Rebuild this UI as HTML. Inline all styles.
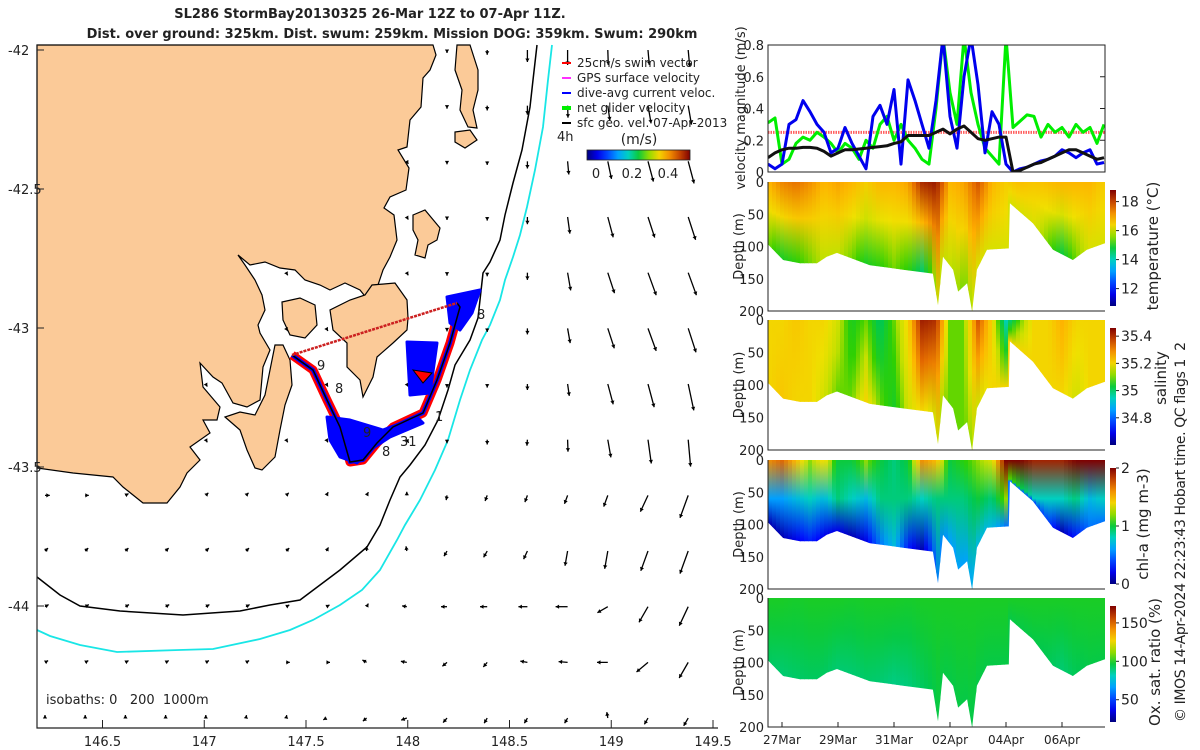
<!DOCTYPE html>
<html><head><meta charset="utf-8"><title>SL286 StormBay glider</title>
<style>
html,body{margin:0;padding:0;background:#fff;width:1200px;height:750px;overflow:hidden}
svg{display:block;font-family:"DejaVu Sans","Liberation Sans",sans-serif}
text{fill:#222}
.pre{white-space:pre}
</style></head>
<body>
<svg id="fig" width="1200" height="750" viewBox="0 0 1200 750" xmlns="http://www.w3.org/2000/svg">
<defs id="defs"></defs>
<text x="370" y="18" text-anchor="middle" font-weight="bold" font-size="13">SL286 StormBay20130325 26-Mar 12Z to 07-Apr 11Z.</text>
<text x="392" y="38" text-anchor="middle" font-weight="bold" font-size="13">Dist. over ground: 325km. Dist. swum: 259km. Mission DOG: 359km. Swum: 290km</text>
<g id="map"></g>
<g id="right"></g>
</svg>
<script>
// ---------------- DATA ----------------
const velStartDay = 26.5;
const velStep = 0.25;
const diveAvgCurrent = [0.05,0.02,0.05,0.30,0.33,0.45,0.38,0.30,0.25,0.12,0.15,0.28,0.18,0.10,0.02,0.35,0.42,0.30,0.52,0.05,0.58,0.45,0.30,0.15,0.45,0.85,0.35,0.15,0.60,0.85,0.55,0.12,0.38,0.30,0.05,0.00,0.02,0.03,0.05,0.07,0.08,0.10,0.14,0.12,0.09,0.12,0.14,0.05,0.06];
const netGlider = [0.31,0.34,0.05,0.08,0.18,0.22,0.20,0.25,0.22,0.18,0.12,0.18,0.15,0.08,0.20,0.15,0.30,0.35,0.20,0.30,0.20,0.15,0.08,0.05,0.40,0.85,0.50,0.30,0.85,0.50,0.30,0.15,0.10,0.05,0.85,0.28,0.32,0.36,0.35,0.22,0.30,0.25,0.28,0.22,0.30,0.25,0.28,0.18,0.30];
const sfcGeo = [0.09,0.12,0.14,0.15,0.15,0.155,0.155,0.15,0.13,0.10,0.12,0.14,0.14,0.145,0.15,0.155,0.16,0.165,0.18,0.19,0.23,0.23,0.23,0.23,0.25,0.27,0.24,0.27,0.29,0.25,0.21,0.20,0.21,0.22,0.22,0.00,0.01,0.03,0.05,0.06,0.08,0.10,0.12,0.14,0.14,0.12,0.10,0.08,0.09];
const swimSpeed = [0.25];
const velTicks = [0,0.2,0.4,0.6,0.8];
const bottomDays  = [26.46,27.04,27.64,28.25,28.6,28.96,30.14,31.32,32.39,32.57,32.75,33.11,33.29,33.61,33.79,33.96,34.32,35.1,35.14,35.96,36.68,37.39,37.89,38.54];
const bottomDepth = [95,121,126,126,116,110,129,136,142,191,116,136,170,157,201,136,105,103,33,64,105,121,105,95];
const fieldDays = [26.5,27,27.5,28,28.5,29,29.5,30,30.5,31,31.5,32,32.5,33,33.5,34,34.5,35,35.5,36,36.5,37,37.5,38,38.5];
const tempSurface = [16.8,17.3,17.5,17.2,16.8,17.0,16.8,16.5,16.8,16.8,17.0,18.3,18.5,16.8,17.0,17.8,16.8,16.5,16.7,16.6,16.7,16.8,16.8,16.8,16.5];
const tempBottom  = [15.5,15.0,15.2,15.5,15.8,15.8,15.5,15.0,15.2,15.5,15.2,14.5,15.8,15.8,15.5,16.0,16.0,16.0,16.0,16.0,15.5,14.8,15.5,16.0,16.0];
const salSurface = [35.2,35.2,35.22,35.2,35.2,35.15,35.05,35.1,35.0,35.1,35.2,35.42,35.4,35.1,35.1,35.35,35.2,34.95,35.1,35.2,35.2,35.25,35.2,35.2,35.2];
const salBottom  = [35.2,35.22,35.2,35.2,35.15,35.1,35.1,35.2,35.1,35.05,35.15,35.2,35.15,35.1,35.1,35.15,35.2,35.2,35.2,35.2,35.2,35.2,35.15,35.2,35.2];
const chlSurface = [1.6,1.7,1.5,1.2,1.4,1.0,1.0,1.2,1.0,0.9,1.0,1.6,1.5,1.0,1.1,1.2,1.3,2.0,2.0,1.9,1.9,1.9,2.0,2.0,2.0];
const chlMid     = [0.6,0.6,0.7,0.8,0.7,0.9,0.8,0.7,0.9,0.9,0.9,0.8,0.9,0.9,0.9,1.0,0.9,1.2,1.0,0.8,0.8,0.8,0.9,0.7,0.8];
const chlBottom  = [0.1,0.1,0.2,0.3,0.2,0.2,0.1,0.2,0.5,0.7,0.3,0.1,0.5,0.6,0.6,0.7,0.7,0.5,0.5,0.4,0.4,0.1,0.3,0.5,0.5];
const oxySurface = [100,100,99,100,100,100,99,100,100,100,99,100,100,100,100,100,100,100,100,100,100,100,100,100,100];
const oxyBottom  = [92,90,91,92,92,90,90,91,90,88,89,92,95,95,95,95,95,95,95,95,93,90,93,95,95];
const timeTickDays = [27,29,31,33,35,37];
const timeTickLabels = ["27Mar","29Mar","31Mar","02Apr","04Apr","06Apr"];
const depthTicks = [0,50,100,150,200];
const tempTicks=[12,14,16,18], salTicks=[34.8,35,35.2,35.4], chlTicks=[0,1,2], oxyTicks=[50,100,150];
const lonTicks = [146.5,147,147.5,148,148.5,149,149.5];
const latTicks = [-42,-42.5,-43,-43.5,-44];
const arrowSpeed = [
 [.05,.05,.05,.05,.05,.05,.05,.05,.05,.05,.05,.08,.2,.25,.25,.25,.28],
 [.05,.05,.05,.05,.05,.05,.05,.05,.05,.05,.05,.08,.15,.2,.25,.3,.32],
 [.05,.05,.05,.05,.05,.05,.05,.05,.05,.05,.05,.06,.12,.22,.3,.35,.38],
 [.05,.05,.05,.05,.05,.05,.05,.05,.05,.05,.05,.06,.12,.28,.35,.36,.4],
 [.05,.05,.05,.05,.05,.05,.05,.05,.05,.05,.05,.06,.12,.3,.36,.4,.4],
 [.05,.05,.05,.05,.05,.05,.05,.05,.05,.05,.05,.06,.1,.25,.35,.4,.42],
 [.05,.05,.05,.05,.05,.05,.05,.05,.05,.05,.06,.06,.1,.2,.35,.4,.45],
 [.05,.05,.05,.05,.05,.05,.05,.05,.05,.06,.06,.08,.1,.2,.3,.4,.45],
 [.08,.06,.06,.06,.06,.06,.06,.06,.06,.06,.08,.1,.12,.15,.2,.3,.4],
 [.07,.07,.07,.07,.07,.07,.07,.07,.08,.08,.1,.12,.15,.25,.3,.35,.4],
 [.07,.07,.07,.07,.07,.07,.06,.06,.06,.08,.1,.12,.15,.2,.2,.3,.35],
 [.06,.06,.06,.06,.06,.06,.06,.06,.08,.1,.1,.1,.12,.15,.18,.25,.3],
 [.05,.05,.05,.05,.05,.05,.05,.06,.08,.1,.1,.1,.1,.1,.1,.12,.15]];
const arrowDir = [
 [-90,-90,-90,-90,-90,-90,-90,-90,-90,-90,-90,-90,-90,-90,-88,-85,-85],
 [-90,-90,-90,-90,-90,-90,-90,-90,-90,-90,-90,-90,-90,-88,-82,-80,-80],
 [-60,-60,-60,-60,-60,-60,-60,-60,-60,-60,-90,-90,-90,-85,-78,-75,-75],
 [-60,-60,-60,-60,-60,-60,-60,-60,-60,-60,-90,-90,-90,-82,-75,-72,-72],
 [-60,-60,-60,-60,-60,-60,-60,-60,-60,-60,-90,-90,-90,-80,-72,-70,-70],
 [-60,-60,-60,-60,-60,-60,-60,-60,-60,-60,-90,-90,-90,-80,-72,-70,-72],
 [-60,-60,-60,-60,-60,-60,-60,-60,-60,-60,-90,-90,-90,-82,-75,-75,-78],
 [-60,-60,-60,-60,-60,-60,-60,-60,-60,-60,-90,-90,-95,-88,-80,-82,-85],
 [0,0,30,45,45,45,45,60,60,90,-100,-110,-110,-110,-110,-115,-110],
 [45,45,45,45,45,45,45,60,90,100,-120,-120,-115,-100,-100,-110,-110],
 [30,30,30,30,30,30,30,30,60,170,180,180,180,180,-150,-120,-115],
 [30,30,30,30,30,30,0,0,150,170,-140,-130,170,175,180,-140,-120],
 [90,90,90,90,90,80,80,-150,-140,-160,-130,-120,-120,-120,100,-120,-120]];
const trackPts = [[457,303],[460,307],[450,343],[437,380],[423,413],[393,427],[377,443],[363,460],[350,462],[340,427],[327,400],[313,370],[292,355]];

// ---------------- HELPERS ----------------
const NS="http://www.w3.org/2000/svg";
function mk(tag, attrs, parent){const e=document.createElementNS(NS,tag);for(const k in attrs)e.setAttribute(k,attrs[k]);(parent||document.getElementById('fig')).appendChild(e);return e;}
const defs=document.getElementById('defs');
const cmapStops=[[0,[0,0,127]],[.12,[0,0,255]],[.3,[0,160,255]],[.4,[0,208,192]],[.48,[0,200,80]],[.56,[48,208,0]],[.62,[192,224,0]],[.68,[240,224,0]],[.76,[255,176,0]],[.86,[224,96,0]],[1,[128,0,0]]];
function cmap(t){t=Math.max(0,Math.min(1,t));for(let i=1;i<cmapStops.length;i++){if(t<=cmapStops[i][0]){const a=cmapStops[i-1],b=cmapStops[i];const f=(t-a[0])/(b[0]-a[0]);const c=a[1].map((v,j)=>Math.round(v+(b[1][j]-v)*f));return `rgb(${c[0]},${c[1]},${c[2]})`;}}return 'rgb(128,0,0)';}
function interp(xs,ys,x){if(x<=xs[0])return ys[0];for(let i=1;i<xs.length;i++){if(x<=xs[i]){const f=(x-xs[i-1])/(xs[i]-xs[i-1]);return ys[i-1]+(ys[i]-ys[i-1])*f;}}return ys[ys.length-1];}

// ---------------- MAP ----------------
const map=document.getElementById('map');
const lonX = lon => 102.5 + (lon-146.5)*203.5;
const latY = lat => 50 + (-42-lat)*278;
const landPolys = {
 'tasmania-mainland':[[37,45],[433,45],[436,55],[430,70],[423,78],[421,107],[410,120],[407,147],[398,150],[409,168],[406,190],[390,197],[384,208],[394,215],[397,240],[390,257],[383,270],[378,285],[368,300],[360,290],[345,283],[330,290],[320,285],[305,280],[295,270],[280,268],[265,262],[250,265],[238,255],[245,265],[255,280],[262,295],[265,310],[258,325],[260,333],[270,350],[263,367],[260,400],[247,407],[233,403],[222,383],[213,377],[200,363],[203,387],[220,407],[217,420],[203,420],[210,433],[190,447],[200,460],[187,473],[180,487],[167,503],[143,503],[123,487],[113,477],[73,473],[37,468]],
 'bruny-island':[[225,417],[240,430],[247,450],[255,468],[262,470],[275,457],[280,430],[285,405],[292,385],[290,360],[283,345],[275,345],[270,370],[265,395],[255,415],[240,412]],
 'tasman-peninsula':[[333,330],[330,310],[350,300],[365,295],[372,285],[395,283],[407,300],[408,318],[407,330],[393,343],[377,357],[373,377],[363,397],[360,380],[347,367],[347,343]],
 'derwent-island':[[282,302],[300,298],[315,305],[317,325],[305,338],[290,335],[283,320]],
 'freycinet-peninsula':[[457,45],[470,45],[478,70],[478,90],[473,110],[477,128],[468,127],[460,110],[462,90],[455,70]],
 'schouten-island':[[455,132],[470,130],[477,140],[465,148],[455,142]],
 'maria-island':[[413,215],[425,210],[440,228],[437,240],[428,245],[425,258],[415,255],[418,240],[413,230]]
};
const landEls=[];
for(const nm in landPolys){
 const p=mk('polygon',{points:landPolys[nm].map(q=>q.join(',')).join(' '),fill:'#fbca98',stroke:'#000','stroke-width':1.2},map);
 
 
 landEls.push(p);
}
const iso200=[[537,45],[533,80],[530,107],[522,150],[513,183],[505,215],[500,240],[490,262],[483,273],[480,300],[478,318],[470,340],[455,365],[448,390],[438,420],[425,445],[410,465],[400,477],[390,500],[380,525],[367,547],[340,570],[320,585],[300,600],[270,605],[240,611],[183,615],[120,611],[80,606],[60,595],[37,577]];
const iso1000=[[552,45],[548,80],[543,127],[535,170],[527,207],[520,235],[513,257],[505,280],[500,300],[490,325],[482,340],[470,370],[460,400],[448,440],[435,470],[420,500],[405,525],[397,540],[380,570],[362,590],[340,605],[313,620],[290,630],[260,639],[213,649],[179,650],[117,652],[80,645],[50,636],[37,630]];
const i2=mk('polyline',{points:iso200.map(q=>q.join(',')).join(' '),fill:'none',stroke:'#000','stroke-width':1.5},map);


const i1=mk('polyline',{points:iso1000.map(q=>q.join(',')).join(' '),fill:'none',stroke:'#19e6e6','stroke-width':1.8},map);



const arrowG=mk('g',{},map);


for(let j=0;j<arrowSpeed.length;j++){
 for(let i=0;i<arrowSpeed[j].length;i++){
  const x=45+40.2*i, y=50+55.67*j;
  const pt=document.getElementById('fig').createSVGPoint(); pt.x=x; pt.y=y;
  let onLand=false; for(const l of landEls){ if(l.isPointInFill(pt)){onLand=true;break;} }
  if(onLand) continue;
  const L=arrowSpeed[j][i]*60, a=arrowDir[j][i]*Math.PI/180;
  const ex=x+L*Math.cos(a), ey=y-L*Math.sin(a);
  const ln=mk('line',{x1:x,y1:y,x2:ex.toFixed(1),y2:ey.toFixed(1),stroke:'#000','stroke-width':1.3},arrowG);
  
  
  const ux=Math.cos(a), uy=-Math.sin(a), h=3.5;
  const hd=mk('polygon',{points:`${ex},${ey} ${ex-h*ux-h*0.6*uy},${ey-h*uy+h*0.6*ux} ${ex-h*ux+h*0.6*uy},${ey-h*uy-h*0.6*ux}`,fill:'#000'},arrowG);
  
  
 }
}
const blobs={
 'dive-avg-blob-north':[[447,297],[480,290],[472,313],[460,330],[450,323]],
 'dive-avg-blob-mid':[[407,342],[437,343],[430,393],[410,395]],
 'dive-avg-blob-south':[[327,417],[350,420],[383,430],[417,417],[423,423],[390,437],[370,450],[357,463],[340,457],[330,440]]
};
const trkG=mk('g',{},map);


const tr=mk('polyline',{points:trackPts.map(q=>q.join(',')).join(' '),fill:'none',stroke:'#ff0000','stroke-width':9,'stroke-linejoin':'round'},trkG);


for(const nm in blobs){
 const b=mk('polygon',{points:blobs[nm].map(q=>q.join(',')).join(' '),fill:'#0000ff',stroke:'#0000ff','stroke-width':3,'stroke-linejoin':'round'},trkG);
 
 
}
const tr2=mk('polyline',{points:trackPts.map(q=>q.join(',')).join(' '),fill:'none',stroke:'#0000ff','stroke-width':4,'stroke-linejoin':'round'},trkG);


const rb=mk('polygon',{points:'413,370 432,373 423,383',fill:'#ff0000',stroke:'#000','stroke-width':1},trkG);


const tr3=mk('polyline',{points:trackPts.map(q=>q.join(',')).join(' '),fill:'none',stroke:'#000','stroke-width':1.5},trkG);


const tr4=mk('line',{x1:292,y1:355,x2:457,y2:303,stroke:'#cc2020','stroke-width':2.5,'stroke-dasharray':'3 1'},trkG);


const dayLabels=[["9",317,370],["8",335,393],["9",363,437],["31",400,446],["8",382,456],["1",435,421],["8",477,319],["4h",557,141]];
for(const d of dayLabels){
 const t=mk('text',{x:d[1],y:d[2],'font-size':13},trkG);
 t.textContent=d[0];
 
 
}
const ax=mk('path',{d:'M37,45 V728 H718',fill:'none',stroke:'#222','stroke-width':1.2},map);


for(const lo of lonTicks){
 const x=lonX(lo);
 const tk=mk('line',{x1:x,y1:728,x2:x,y2:720,stroke:'#222'},map);
 
 
 const t=mk('text',{x:x,y:746,'text-anchor':'middle','font-size':13},map);
 t.textContent=String(lo);
 
 
}
for(const la of latTicks){
 const y=latY(la);
 const tk=mk('line',{x1:37,y1:y,x2:44,y2:y,stroke:'#222'},map);
 
 
 const t=mk('text',{x:8,y:y+5,'font-size':13},map);
 t.textContent=String(la);
 
 
}
const iso=mk('text',{x:46,y:704,'font-size':13,'class':'pre'},map);
iso.textContent='isobaths: 0   200  1000m';


const leg=[['#ff0000','25cm/s swim vector'],['#ff30ff','GPS surface velocity'],['#0000ff','dive-avg current veloc.'],['#00ee00','net glider velocity'],['#000000','sfc geo. vel. 07-Apr-2013']];
const legG=mk('g',{},map);


leg.forEach((e,k)=>{
 const y=63+15*k;
 const m=mk('line',{x1:562,y1:y,x2:571,y2:y,stroke:e[0],'stroke-width':k==3?4:2},legG);
 
 
 const t=mk('text',{x:577,y:y+4,'font-size':12},legG);
 t.textContent=e[1];
 
 
});
const cbt=mk('text',{x:639,y:144,'text-anchor':'middle','font-size':14},legG);
cbt.textContent='(m/s)';


const gS=mk('linearGradient',{id:'gSpeed',x1:0,x2:1,y1:0,y2:0},defs);
for(let s=0;s<=10;s++){mk('stop',{offset:s/10,'stop-color':cmap(s/10)},gS);}
const cbr=mk('rect',{x:587,y:150,width:103,height:10,fill:'url(#gSpeed)',stroke:'#222','stroke-width':0.8},legG);


[['0',596],['0.2',632],['0.4',668]].forEach(l=>{
 const t=mk('text',{x:l[1],y:178,'text-anchor':'middle','font-size':13},legG);
 t.textContent=l[0];
 
 
});

// ---------------- RIGHT PANELS ----------------
const R=document.getElementById('right');
const X0=768, X1=1105;
const xT = d => X0 + (d-26.5)*28;
const vTop=45, vBot=172;
const yV = v => vBot - v/0.8*(vBot-vTop);
const vClip=mk('clipPath',{id:'vclip'},defs);
mk('rect',{x:X0,y:vTop,width:X1-X0,height:vBot-vTop},vClip);
const vg=mk('g',{'clip-path':'url(#vclip)'},R);


const sw=mk('line',{x1:X0,x2:X1,y1:yV(swimSpeed[0]),y2:yV(swimSpeed[0]),stroke:'#ff6060','stroke-width':3,'stroke-dasharray':'1.5 1'},vg);


function series(arr,color,w,name){
 const pts=arr.map((v,i)=>xT(velStartDay+velStep*i).toFixed(1)+','+yV(v).toFixed(1)).join(' ');
 const p=mk('polyline',{points:pts,fill:'none',stroke:color,'stroke-width':w,'stroke-linejoin':'round'},vg);
 
 
}
series(netGlider,'#00ee00',3,'net-glider-velocity-line');
series(diveAvgCurrent,'#0000ee',3,'dive-avg-current-line');
series(sfcGeo,'#111',3,'surface-geostrophic-line');
const vb=mk('rect',{x:X0,y:vTop,width:X1-X0,height:vBot-vTop,fill:'none',stroke:'#222','stroke-width':1},R);


for(const v of velTicks){
 const t=mk('text',{x:764,y:yV(v)+5,'text-anchor':'end','font-size':13},R);
 t.textContent=String(v);
 
 
 const tk=mk('line',{x1:X1,x2:X1-5,y1:yV(v),y2:yV(v),stroke:'#222'},R);
 
 
}
const vl=mk('text',{x:0,y:0,'text-anchor':'middle','font-size':13,transform:'translate(745,108) rotate(-90)'},R);
vl.textContent='velocity magnitude (m/s)';



const panels=[
 {name:'temperature',top:182,bot:311,surf:tempSurface,mid:null,bottom:tempBottom,lo:10.8,hi:18.8,ticks:tempTicks,label:'temperature (°C)',lx:1158,ly:246},
 {name:'salinity',top:320,bot:450,surf:salSurface,mid:null,bottom:salBottom,lo:34.6,hi:35.46,ticks:salTicks,label:'salinity',lx:1166,ly:378},
 {name:'chlorophyll',top:460,bot:589,surf:chlSurface,mid:chlMid,bottom:chlBottom,lo:0,hi:2,ticks:chlTicks,label:'chl-a (mg m-3)',lx:1148,ly:524},
 {name:'oxygen',top:598,bot:727,surf:oxySurface,mid:null,bottom:oxyBottom,lo:21,hi:172,ticks:oxyTicks,label:'Ox. sat. ratio (%)',lx:1160,ly:662}
];
panels.forEach((P,pi)=>{
 const h=P.bot-P.top, yD=d=>P.top+d/200*h;
 const cp=mk('clipPath',{id:'cp'+pi},defs);
 let pts=`${X0},${P.top} ${X1},${P.top} `;
 for(let k=bottomDays.length-1;k>=0;k--) pts+=`${Math.min(X1,xT(bottomDays[k])).toFixed(1)},${yD(bottomDepth[k]).toFixed(1)} `;
 mk('polygon',{points:pts},cp);
 const g=mk('g',{'clip-path':`url(#cp${pi})`},R);
 
 
 const cw=4;
 for(let x=X0;x<X1;x+=cw){
  const d=26.5+(x+cw/2-X0)/28;
  const bd=interp(bottomDays,bottomDepth,d);
  const s=interp(fieldDays,P.surf,d), b=interp(fieldDays,P.bottom,d);
  const m=P.mid?interp(fieldDays,P.mid,d):null;
  const gid='g'+pi+'_'+x;
  const gr=mk('linearGradient',{id:gid,gradientUnits:'userSpaceOnUse',x1:0,x2:0,y1:P.top,y2:yD(Math.max(bd,30))},defs);
  mk('stop',{offset:0,'stop-color':cmap((s-P.lo)/(P.hi-P.lo))},gr);
  if(m!==null) mk('stop',{offset:Math.min(0.9,60/Math.max(bd,30)),'stop-color':cmap((m-P.lo)/(P.hi-P.lo))},gr);
  else mk('stop',{offset:0.45,'stop-color':cmap(((s*0.6+b*0.4)-P.lo)/(P.hi-P.lo))},gr);
  mk('stop',{offset:1,'stop-color':cmap((b-P.lo)/(P.hi-P.lo))},gr);
  const r=mk('rect',{x:x,y:P.top,width:cw+0.6,height:h,fill:`url(#${gid})`},g);
  
  
 }
 const fr=mk('path',{d:`M${X0},${P.top} V${P.bot} H${X1}`,fill:'none',stroke:'#222','stroke-width':1},R);
 
 
 for(const dp of depthTicks){
  const t=mk('text',{x:764,y:yD(dp)+5,'text-anchor':'end','font-size':13},R);
  t.textContent=String(dp);
  
  
 }
 const yl=mk('text',{x:0,y:0,'text-anchor':'middle','font-size':13,transform:`translate(743,${(P.top+P.bot)/2}) rotate(-90)`},R);
 yl.textContent='Depth (m)';
 
 
 const cbTop=P.top+8, cbBot=P.bot-5;
 const gc=mk('linearGradient',{id:'cb'+pi,x1:0,x2:0,y1:1,y2:0},defs);
 for(let s=0;s<=10;s++) mk('stop',{offset:s/10,'stop-color':cmap(s/10)},gc);
 const cb=mk('rect',{x:1110,y:cbTop,width:6,height:cbBot-cbTop,fill:`url(#cb${pi})`},R);
 
 
 for(const tv of P.ticks){
  const y=cbBot-(tv-P.lo)/(P.hi-P.lo)*(cbBot-cbTop);
  const tk=mk('line',{x1:1116,x2:1119,y1:y,y2:y,stroke:'#222'},R);
  
  
  const t=mk('text',{x:1121,y:y+5,'font-size':14},R);
  t.textContent=String(tv);
  
  
 }
 const cl=mk('text',{x:0,y:0,'text-anchor':'middle','font-size':15,transform:`translate(${P.lx},${P.ly}) rotate(-90)`},R);
 cl.textContent=P.label;
 
 
});
timeTickDays.forEach((d,i)=>{
 const x=xT(d);
 const tk=mk('line',{x1:x,x2:x,y1:727,y2:722,stroke:'#222'},R);
 
 
 const t=mk('text',{x:x,y:744,'text-anchor':'middle','font-size':12},R);
 t.textContent=timeTickLabels[i];
 
 
});
const imos=mk('text',{x:0,y:0,'font-size':14,'class':'pre',textLength:380,transform:'translate(1185,722) rotate(-90)'},R);
imos.textContent='© IMOS 14-Apr-2024 22:23:43 Hobart time. QC flags 1  2';


</script>
</body></html>
